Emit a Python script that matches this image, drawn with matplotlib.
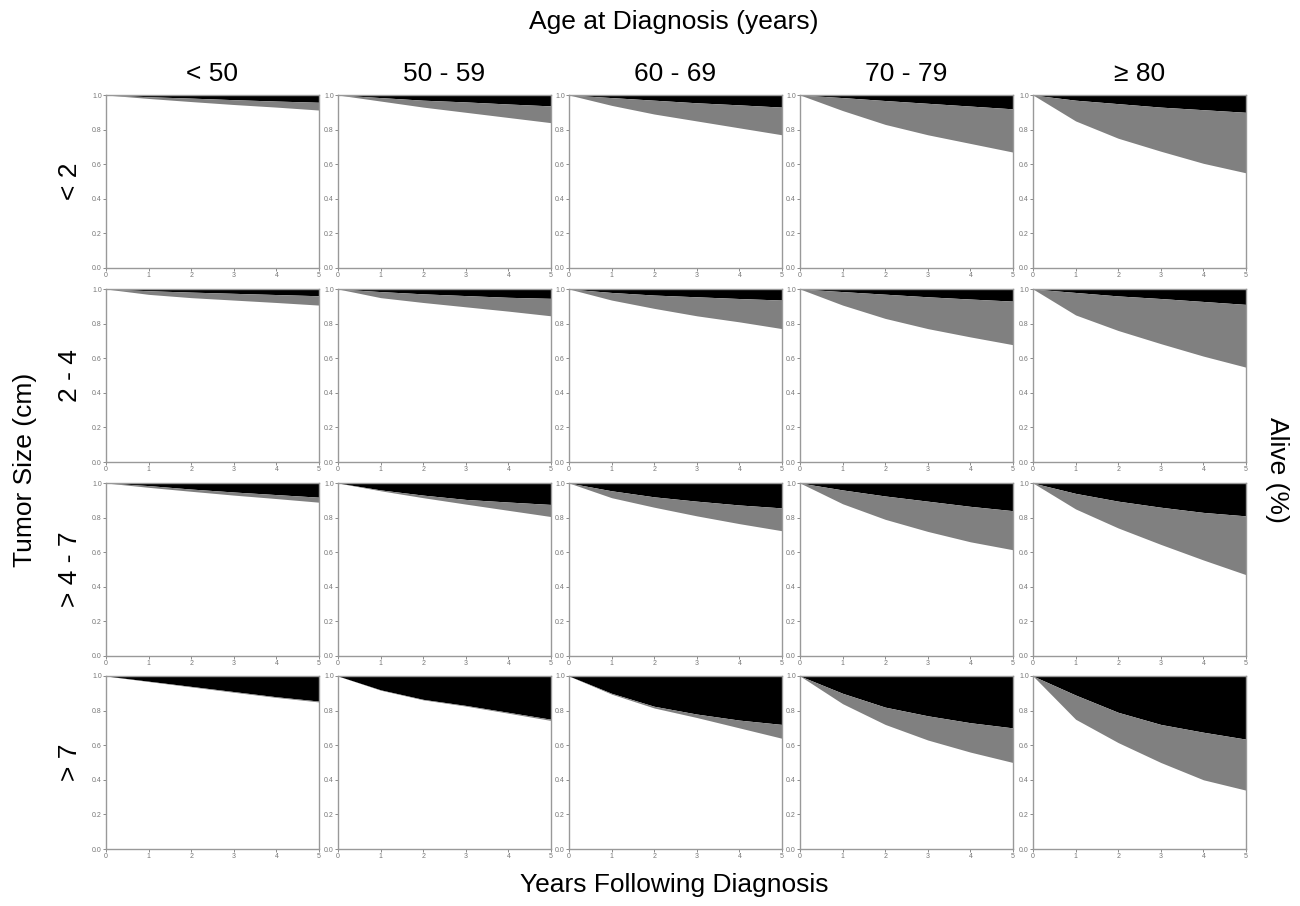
import numpy as np
import matplotlib.pyplot as plt

plt.rcParams['font.family'] = ['Liberation Sans', 'DejaVu Sans']

# Categorías
age_groups = ['< 50', '50 - 59', '60 - 69', '70 - 79', '\u2265 80']
tumor_sizes = ['< 2', '2 - 4', '> 4 - 7', '> 7']
years = [0, 1, 2, 3, 4, 5]

# Fracción viva (límite blanco/gris) por tamaño y edad
alive = {
    '< 2': [
        [1, 0.98, 0.962, 0.945, 0.93, 0.913],
        [1, 0.965, 0.93, 0.90, 0.87, 0.84],
        [1, 0.94, 0.89, 0.85, 0.81, 0.77],
        [1, 0.91, 0.83, 0.77, 0.72, 0.67],
        [1, 0.85, 0.75, 0.675, 0.605, 0.55],
    ],
    '2 - 4': [
        [1, 0.969, 0.95, 0.936, 0.922, 0.907],
        [1, 0.95, 0.922, 0.897, 0.872, 0.845],
        [1, 0.936, 0.888, 0.845, 0.81, 0.771],
        [1, 0.907, 0.83, 0.771, 0.723, 0.678],
        [1, 0.85, 0.76, 0.684, 0.612, 0.548],
    ],
    '> 4 - 7': [
        [1, 0.975, 0.952, 0.93, 0.91, 0.889],
        [1, 0.955, 0.915, 0.878, 0.842, 0.806],
        [1, 0.915, 0.86, 0.81, 0.765, 0.724],
        [1, 0.88, 0.79, 0.72, 0.66, 0.614],
        [1, 0.85, 0.74, 0.645, 0.555, 0.47],
    ],
    '> 7': [
        [1, 0.968, 0.937, 0.906, 0.876, 0.85],
        [1, 0.918, 0.862, 0.826, 0.785, 0.743],
        [1, 0.895, 0.815, 0.76, 0.70, 0.64],
        [1, 0.84, 0.72, 0.63, 0.56, 0.50],
        [1, 0.75, 0.615, 0.50, 0.40, 0.34],
    ],
}

# 1 - muerte por cáncer (límite gris/negro)
cancer_free = {
    '< 2': [
        [1, 0.99, 0.982, 0.973, 0.965, 0.958],
        [1, 0.985, 0.97, 0.96, 0.948, 0.937],
        [1, 0.985, 0.97, 0.955, 0.943, 0.93],
        [1, 0.985, 0.968, 0.952, 0.936, 0.92],
        [1, 0.97, 0.95, 0.93, 0.915, 0.90],
    ],
    '2 - 4': [
        [1, 0.99, 0.982, 0.975, 0.968, 0.961],
        [1, 0.985, 0.972, 0.962, 0.952, 0.946],
        [1, 0.98, 0.965, 0.955, 0.945, 0.936],
        [1, 0.985, 0.97, 0.955, 0.942, 0.93],
        [1, 0.98, 0.96, 0.945, 0.928, 0.911],
    ],
    '> 4 - 7': [
        [1, 0.985, 0.965, 0.948, 0.933, 0.918],
        [1, 0.96, 0.93, 0.905, 0.89, 0.876],
        [1, 0.955, 0.92, 0.895, 0.873, 0.856],
        [1, 0.96, 0.925, 0.895, 0.865, 0.84],
        [1, 0.94, 0.895, 0.86, 0.83, 0.81],
    ],
    '> 7': [
        [1, 0.97, 0.94, 0.91, 0.88, 0.855],
        [1, 0.92, 0.865, 0.83, 0.79, 0.75],
        [1, 0.90, 0.825, 0.78, 0.745, 0.72],
        [1, 0.90, 0.82, 0.77, 0.73, 0.70],
        [1, 0.89, 0.79, 0.72, 0.675, 0.635],
    ],
}

fig = plt.figure(figsize=(13, 9.06), dpi=100)

W, H = 1300, 906
col_left = [106, 338, 569, 800, 1033]
row_top = [95, 289, 483, 676]
pw, ph = 213, 173

for i, size in enumerate(tumor_sizes):
    for j, age in enumerate(age_groups):
        ax = fig.add_axes([col_left[j] / W, 1 - (row_top[i] + ph) / H, pw / W, ph / H])
        a = np.array(alive[size][j])
        c = np.array(cancer_free[size][j])
        ax.fill_between(years, c, 1, color='black', linewidth=0)
        ax.fill_between(years, a, c, color='#808080', linewidth=0)
        ax.set_xlim(0, 5)
        ax.set_ylim(0, 1)
        ax.set_xticks(years)
        ax.set_yticks([0, 0.2, 0.4, 0.6, 0.8, 1.0])
        ax.set_yticklabels(['0.0', '0.2', '0.4', '0.6', '0.8', '1.0'])
        ax.tick_params(labelsize=5, colors='#777777', length=2, width=0.6, pad=1)
        for s in ax.spines.values():
            s.set_color('#999999')
            s.set_linewidth(1.0)
        if i == 0:
            ax.set_title(age, fontsize=19, pad=10)
        if j == 0:
            ax.text(-0.17, 0.5, size, transform=ax.transAxes, rotation=90,
                    fontsize=19, ha='center', va='center')

fig.text(674 / W, 1 - 22 / H, 'Age at Diagnosis (years)', fontsize=19, ha='center', va='center')
fig.text(674 / W, 1 - 885 / H, 'Years Following Diagnosis', fontsize=19, ha='center', va='center')
fig.text(25 / W, 1 - 470 / H, 'Tumor Size (cm)', fontsize=19, rotation=90, ha='center', va='center')
fig.text(1277 / W, 1 - 470 / H, 'Alive (%)', fontsize=19, rotation=270, ha='center', va='center')

plt.savefig('out.png', dpi=100)
